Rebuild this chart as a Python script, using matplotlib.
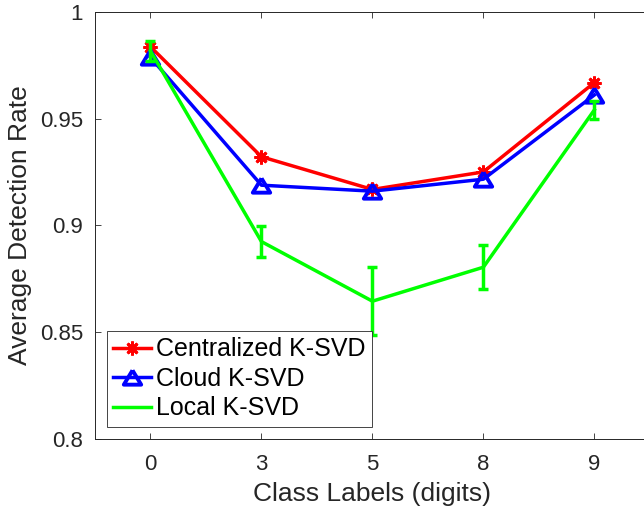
import matplotlib
matplotlib.use("Agg")
import matplotlib.pyplot as plt
from matplotlib.lines import Line2D
import numpy as np

# Data
class_labels = ["0", "3", "5", "8", "9"]
centralized = [0.9836, 0.9321, 0.9168, 0.9250, 0.9668]
cloud = [0.9786, 0.9188, 0.9160, 0.9216, 0.9610]
local_mean = [0.9816, 0.8924, 0.8645, 0.8804, 0.9540]
local_err = [0.0045, 0.0073, 0.0158, 0.0104, 0.0042]
series_names = ["Centralized K-SVD", "Cloud K-SVD", "Local K-SVD"]

plt.rcParams['font.family'] = ['Liberation Sans', 'DejaVu Sans']
txt = '#262626'

fig = plt.figure(figsize=(6.44, 5.07), dpi=100)
W, H = 644, 507
ax_l, ax_r, ax_t, ax_b = 95, 649.8, 11.7, 439
ax = fig.add_axes([ax_l / W, (H - ax_b) / H, (ax_r - ax_l) / W, (ax_b - ax_t) / H])

x = np.arange(len(class_labels))
tri = [(0, 0.95), (-1.15, -0.95), (1.15, -0.95), (0, 0.95)]
lw = 2.5

h1, = ax.plot(x, centralized, color='#ff0000', lw=lw, marker=(8, 2, 0), ms=10, mew=2.0,
              label=series_names[0], zorder=3)
h2, = ax.plot(x, cloud, color='#0000ff', lw=lw, marker=tri, ms=12.5, mew=2.8, mfc='none',
              label=series_names[1], zorder=4)
ax.errorbar(x, local_mean, yerr=local_err, color='#00ff00', lw=lw, elinewidth=lw,
            capsize=3.3, capthick=lw, zorder=5)
h3 = Line2D([], [], color='#00ff00', lw=lw)

ax.set_xlim(-0.5, 4.5)
ax.set_ylim(0.8, 1.0)
ax.set_xticks(x)
ax.set_xticklabels(class_labels)
ax.set_yticks([0.8, 0.85, 0.9, 0.95, 1.0])
ax.set_yticklabels(["0.8", "0.85", "0.9", "0.95", "1"])

ax.tick_params(direction='in', length=4, width=0.6, color=txt, labelcolor=txt,
               labelsize=16, top=True, right=True)
ax.tick_params(axis='y', pad=8.5)
ax.tick_params(axis='x', pad=10.5)
for s in ax.spines.values():
    s.set_color(txt)
    s.set_linewidth(0.7)

ax.set_xlabel("Class Labels (digits)", fontsize=19, color=txt, labelpad=5.5)
ax.set_ylabel("Average Detection Rate", fontsize=19, color=txt, labelpad=6)

leg = ax.legend([h1, h2, h3], series_names, loc='lower left', bbox_to_anchor=(0.022, 0.029),
                borderaxespad=0, fontsize=18, frameon=True, fancybox=False,
                framealpha=1, edgecolor=txt, handlelength=1.5, handletextpad=0.2,
                labelspacing=0.22, borderpad=0.25)
leg.get_frame().set_linewidth(0.6)

fig.savefig("out.png", dpi=100)
